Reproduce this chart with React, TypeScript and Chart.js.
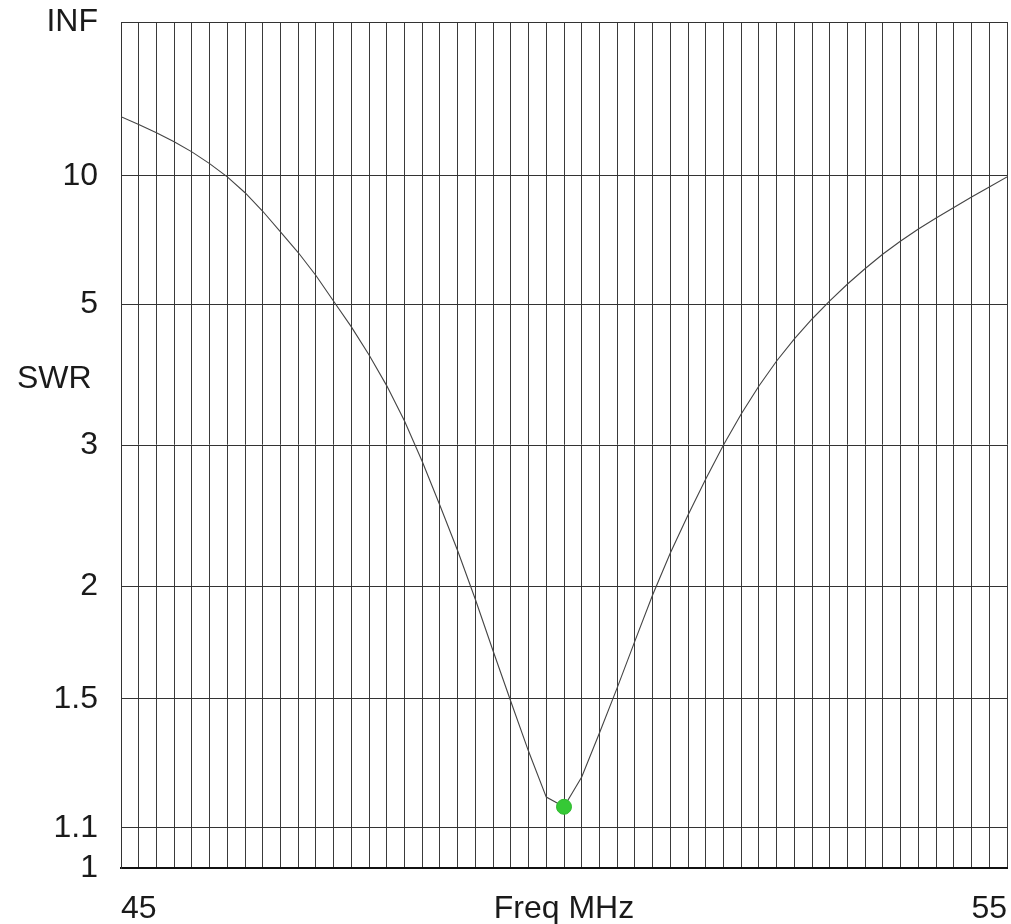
import React, { useEffect, useRef } from "react";
import { Chart, registerables } from "chart.js";

Chart.register(...registerables);

// Frequency samples (MHz) — also the vertical grid positions
const freqMHz = [
  45.0, 45.2, 45.4, 45.6, 45.8, 46.0, 46.2, 46.4, 46.6, 46.8,
  47.0, 47.2, 47.4, 47.6, 47.8, 48.0, 48.2, 48.4, 48.6, 48.8,
  49.0, 49.2, 49.4, 49.6, 49.8, 50.0, 50.2, 50.4, 50.6, 50.8,
  51.0, 51.2, 51.4, 51.6, 51.8, 52.0, 52.2, 52.4, 52.6, 52.8,
  53.0, 53.2, 53.4, 53.6, 53.8, 54.0, 54.2, 54.4, 54.6, 54.8,
  55.0,
];

// SWR at each frequency
const swrValues = [
  16.87, 15.51, 14.27, 13.14, 12.03, 10.95, 9.93, 8.91, 7.94, 7.06,
  6.34, 5.675, 5.06, 4.55, 4.08, 3.65, 3.24, 2.85, 2.5, 2.2,
  1.93, 1.69, 1.49, 1.32, 1.183, 1.156, 1.241, 1.38, 1.541, 1.733,
  1.953, 2.186, 2.432, 2.702, 3.0, 3.316, 3.648, 3.991, 4.338, 4.697,
  5.065, 5.458, 5.864, 6.293, 6.726, 7.174, 7.633, 8.121, 8.669, 9.255,
  9.92,
];

// Minimum-SWR marker
const markerFreq = [50.0];
const markerSwr = [1.156];

// Y axis ticks (SWR) and their labels
const yTickSwr = [1, 1.1, 1.5, 2, 3, 3.74, 5, 10, Infinity];
const yTickLabels = ["1", "1.1", "1.5", "2", "3", "SWR\u2009", "5", "10", "INF"];

// X axis labels
const xLabelValues = [45, 50, 55];
const xLabelTexts = ["45", "Freq MHz", "55"];

// SWR -> reflection coefficient (the chart's vertical scale is linear in it)
const rho = (s: number) => (s === Infinity ? 1 : (s - 1) / (s + 1));

const FONT = "'Liberation Sans', Arial, sans-serif";

export default function App() {
  const ref = useRef<HTMLCanvasElement | null>(null);

  useEffect(() => {
    if (!ref.current) return;
    const chart = new Chart(ref.current, {
      type: "scatter",
      data: {
        datasets: [
          {
            label: "marker",
            data: markerFreq.map((f, i) => ({ x: f, y: rho(markerSwr[i]) })),
            showLine: false,
            pointRadius: 7.5,
            pointBackgroundColor: "#35c935",
            pointBorderColor: "#2fb82f",
            pointBorderWidth: 1,
          },
          {
            label: "SWR",
            data: freqMHz.map((f, i) => ({ x: f, y: rho(swrValues[i]) })),
            showLine: true,
            borderColor: "#444",
            borderWidth: 1.1,
            pointRadius: 0,
            tension: 0,
          },
        ],
      },
      options: {
        animation: false,
        responsive: false,
        devicePixelRatio: 1,
        layout: { autoPadding: false, padding: { top: 22, right: 4, left: 0, bottom: 0 } },
        plugins: {
          legend: { display: false },
          tooltip: { enabled: false },
        },
        scales: {
          x: {
            type: "linear",
            min: 45,
            max: 55,
            afterBuildTicks: (scale: any) => {
              scale.ticks = freqMHz.map((v) => ({ value: v }));
            },
            afterFit: (scale: any) => {
              scale.height = 56;
              scale.paddingLeft = 0;
              scale.paddingRight = 0;
              scale.paddingTop = 0;
              scale.paddingBottom = 0;
            },
            grid: {
              color: "#3a3a3a",
              lineWidth: 1,
              drawTicks: false,
            },
            border: { display: true, color: "#111", width: 2 },
            ticks: {
              autoSkip: false,
              maxRotation: 0,
              minRotation: 0,
              align: "inner",
              padding: 22,
              color: "#1a1a1a",
              font: { family: FONT, size: 32 },
              callback: (value: any) => {
                const k = xLabelValues.findIndex((v) => Math.abs(v - Number(value)) < 1e-6);
                return k >= 0 ? xLabelTexts[k] : "";
              },
            },
          },
          y: {
            type: "linear",
            min: 0,
            max: 1,
            afterBuildTicks: (scale: any) => {
              scale.ticks = yTickSwr.map((s) => ({ value: rho(s) }));
            },
            afterFit: (scale: any) => {
              scale.width = 121;
              scale.paddingLeft = 0;
              scale.paddingRight = 0;
              scale.paddingTop = 0;
              scale.paddingBottom = 0;
            },
            grid: {
              color: (ctx: any) =>
                yTickLabels[ctx.index].startsWith("SWR") ? "rgba(0,0,0,0)" : "#333",
              lineWidth: 1,
              drawTicks: false,
            },
            border: { display: true, color: "#333", width: 1 },
            ticks: {
              autoSkip: false,
              padding: 23,
              color: "#1a1a1a",
              font: { family: FONT, size: 32 },
              callback: (_value: any, index: number) => yTickLabels[index],
            },
          },
        },
      },
    } as any);
    return () => chart.destroy();
  }, []);

  return (
    <div style={{ position: "absolute", left: 0, top: 0, width: 1011, height: 924, background: "#fff" }}>
      <canvas ref={ref} width={1011} height={924} style={{ display: "block", width: 1011, height: 924 }} />
    </div>
  );
}
